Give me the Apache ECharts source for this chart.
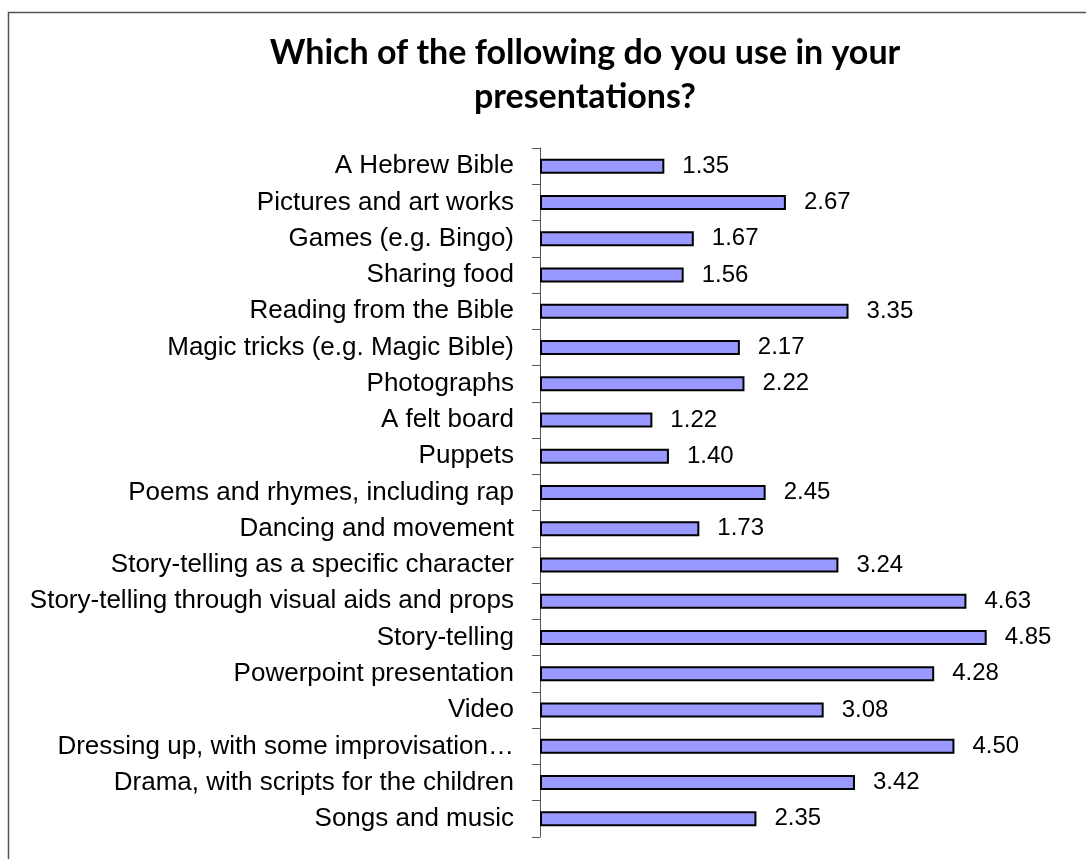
<!DOCTYPE html>
<html>
<head>
<meta charset="utf-8">
<script src="https://cdn.jsdelivr.net/npm/echarts@6/dist/echarts.min.js"></script>
<style>
  html, body { margin: 0; padding: 0; background: #fff; }
  #chart { width: 1086px; height: 859px; }
</style>
</head>
<body>
<div id="chart"></div>
<script>
const titleText = 'Which of the following do you use in your\npresentations?';
const categories = [
  'A Hebrew Bible',
  'Pictures and art works',
  'Games (e.g. Bingo)',
  'Sharing food',
  'Reading from the Bible',
  'Magic tricks (e.g. Magic Bible)',
  'Photographs',
  'A felt board',
  'Puppets',
  'Poems and rhymes, including rap',
  'Dancing and movement',
  'Story-telling as a specific character',
  'Story-telling through visual aids and props',
  'Story-telling',
  'Powerpoint presentation',
  'Video',
  'Dressing up, with some improvisation…',
  'Drama, with scripts for the children',
  'Songs and music'
];
const values = [1.35, 2.67, 1.67, 1.56, 3.35, 2.17, 2.22, 1.22, 1.40, 2.45, 1.73, 3.24, 4.63, 4.85, 4.28, 3.08, 4.50, 3.42, 2.35];
const xMin = 0;
const xMax = 5;

const chart = echarts.init(document.getElementById('chart'), null, { renderer: 'canvas' });
chart.setOption({
  animation: false,
  backgroundColor: '#fff',
  graphic: [{
    type: 'rect',
    shape: { x: 8.5, y: 12.5, width: 1200, height: 1000 },
    style: { fill: 'none', stroke: '#555', lineWidth: 1.5 },
    silent: true
  }],
  title: {
    text: titleText,
    left: 580,
    textAlign: 'center',
    top: 26,
    textStyle: {
      fontFamily: 'Lato',
      fontWeight: 'bold',
      fontSize: 34,
      lineHeight: 44,
      color: '#000'
    }
  },
  grid: { left: 540, top: 148, height: 689, width: 460.5, containLabel: false },
  xAxis: {
    type: 'value', min: xMin, max: xMax, show: false
  },
  yAxis: {
    type: 'category',
    data: categories,
    inverse: true,
    axisLine: { show: true, lineStyle: { color: '#555', width: 1 } },
    axisTick: { show: true, inside: false, length: 8, alignWithLabel: false, lineStyle: { color: '#555' } },
    axisLabel: {
      margin: 26,
      color: '#000',
      fontFamily: 'Liberation Sans',
      fontSize: 26
    },
    splitLine: { show: false }
  },
  series: [{
    type: 'bar',
    data: values,
    barWidth: 15,
    itemStyle: { color: '#9999FF', borderColor: '#000', borderWidth: 2 },
    label: {
      show: true,
      position: 'right',
      distance: 18,
      color: '#000',
      fontFamily: 'Liberation Sans',
      fontSize: 24,
      formatter: p => p.value.toFixed(2)
    }
  }]
});
</script>
</body>
</html>
